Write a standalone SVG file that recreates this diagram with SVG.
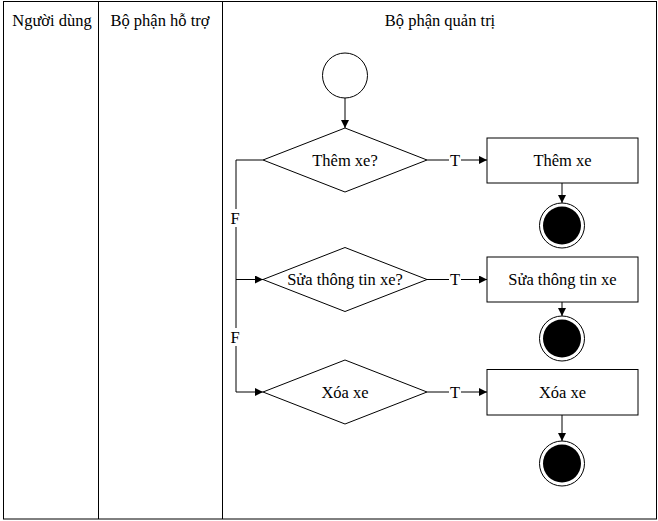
<svg xmlns="http://www.w3.org/2000/svg" width="658" height="521" viewBox="0 0 658 521">
<defs>
<marker id="ah" viewBox="0 0 10 10" refX="10" refY="5" markerWidth="8" markerHeight="8" markerUnits="userSpaceOnUse" orient="auto">
<path d="M0,0 L10,5 L0,10 z" fill="#000"/>
</marker>
<style>
text{font-family:'Liberation Serif','Times New Roman','DejaVu Serif',serif;font-size:16.5px;fill:#000;text-anchor:middle}
.ln{stroke:#000;stroke-width:1;fill:none}
.sh{stroke:#000;stroke-width:1;fill:#fff}
.lbl{dominant-baseline:central}
</style>
</defs>
<rect width="658" height="521" fill="#fff"/>
<g id="swimlanes" font-family="Liberation Serif, serif">
<rect x="3.5" y="1.5" width="653" height="517.5" class="ln" stroke-width="1.5"/>
<line x1="98.5" y1="1.5" x2="98.5" y2="519" class="ln" stroke-width="1.5"/>
<line x1="222.5" y1="1.5" x2="222.5" y2="519" class="ln" stroke-width="1.5"/>
<text x="52" y="26">Người dùng</text>
<text x="160" y="26">Bộ phận hỗ trợ</text>
<text x="440" y="26">Bộ phận quản trị</text>
</g>
<g id="connectors">
<line x1="345" y1="98" x2="345" y2="128" class="ln" marker-end="url(#ah)"/>
<line x1="427" y1="160" x2="449" y2="160" class="ln"/>
<line x1="461" y1="160" x2="487" y2="160" class="ln" marker-end="url(#ah)"/>
<line x1="427" y1="279.5" x2="449" y2="279.5" class="ln"/>
<line x1="461" y1="279.5" x2="487" y2="279.5" class="ln" marker-end="url(#ah)"/>
<line x1="427" y1="392" x2="449" y2="392" class="ln"/>
<line x1="461" y1="392" x2="487" y2="392" class="ln" marker-end="url(#ah)"/>
<line x1="562" y1="183" x2="562" y2="203" class="ln" marker-end="url(#ah)"/>
<line x1="562" y1="302" x2="562" y2="316" class="ln" marker-end="url(#ah)"/>
<line x1="562" y1="415" x2="562" y2="441" class="ln" marker-end="url(#ah)"/>
<polyline points="263,160 236,160 236,209" class="ln"/>
<polyline points="236,227 236,328" class="ln"/>
<polyline points="236,346 236,392 263,392" class="ln" marker-end="url(#ah)"/>
<line x1="236" y1="279.5" x2="263" y2="279.5" class="ln" marker-end="url(#ah)"/>
<text x="455" y="160" class="lbl">T</text>
<text x="455" y="279.5" class="lbl">T</text>
<text x="455" y="392" class="lbl">T</text>
<text x="235" y="218" class="lbl">F</text>
<text x="235" y="337" class="lbl">F</text>
</g>
<g id="start">
<circle cx="345" cy="75.5" r="22.5" class="sh"/>
</g>
<g id="d1">
<polygon points="345,128 427,160 345,192 263,160" class="sh"/>
<text x="345" y="160" class="lbl">Thêm xe?</text>
</g>
<g id="a1">
<rect x="487" y="138" width="151" height="45" class="sh"/>
<text x="562.5" y="160.5" class="lbl">Thêm xe</text>
</g>
<g id="e1">
<circle cx="562" cy="225.5" r="22.5" class="sh"/>
<circle cx="562" cy="225.5" r="19" fill="#000"/>
</g>
<g id="d2">
<polygon points="345,247.5 427,279.5 345,311.5 263,279.5" class="sh"/>
<text x="345" y="279.5" class="lbl">Sửa thông tin xe?</text>
</g>
<g id="a2">
<rect x="487" y="257" width="151" height="45" class="sh"/>
<text x="562.5" y="279.5" class="lbl">Sửa thông tin xe</text>
</g>
<g id="e2">
<circle cx="562" cy="338.5" r="22.5" class="sh"/>
<circle cx="562" cy="338.5" r="19" fill="#000"/>
</g>
<g id="d3">
<polygon points="345,360 427,392 345,424 263,392" class="sh"/>
<text x="345" y="392" class="lbl">Xóa xe</text>
</g>
<g id="a3">
<rect x="487" y="369.5" width="151" height="45.5" class="sh"/>
<text x="562.5" y="392" class="lbl">Xóa xe</text>
</g>
<g id="e3">
<circle cx="562" cy="463.5" r="22.5" class="sh"/>
<circle cx="562" cy="463.5" r="19" fill="#000"/>
</g>
</svg>
